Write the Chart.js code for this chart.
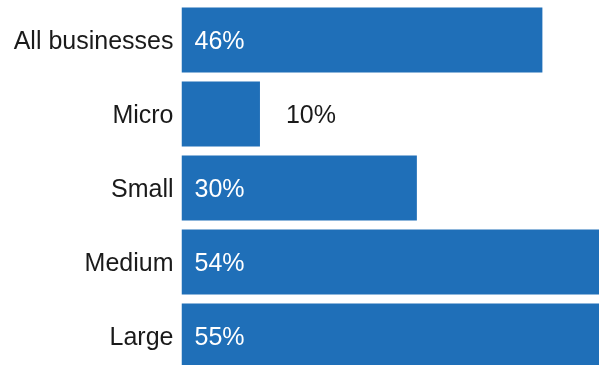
<!DOCTYPE html>
<html>
<head>
<meta charset="utf-8">
<script src="https://cdn.jsdelivr.net/npm/chart.js@4/dist/chart.umd.min.js"></script>
<style>
html,body{margin:0;padding:0;overflow:hidden;background:#fff;width:599px;height:365px;}
#wrap{position:absolute;left:0;top:0;width:613px;height:373px;}
</style>
</head>
<body>
<div id="wrap"><canvas id="c"></canvas></div>
<script>
const categories = ["All businesses", "Micro", "Small", "Medium", "Large"];
const shares = [46, 10, 30, 54, 55];
const valueLabels = ["46%", "10%", "30%", "54%", "55%"];

const FONT = {family: "'Liberation Sans', Arial, sans-serif", size: 25};

const labelPlugin = {
  id: 'valueLabels',
  afterDatasetsDraw(chart) {
    const ctx = chart.ctx;
    const meta = chart.getDatasetMeta(0);
    ctx.save();
    ctx.font = FONT.size + "px " + FONT.family;
    ctx.textBaseline = 'middle';
    ctx.textAlign = 'left';
    meta.data.forEach((bar, i) => {
      const w = bar.x - bar.base;
      if (w > 120) {
        ctx.fillStyle = '#ffffff';
        ctx.fillText(valueLabels[i], bar.base + 13, bar.y + 2);
      } else {
        ctx.fillStyle = '#1a1a1a';
        ctx.fillText(valueLabels[i], bar.x + 26, bar.y + 2);
      }
    });
    ctx.restore();
  }
};

new Chart(document.getElementById('c'), {
  type: 'bar',
  data: {
    labels: categories,
    datasets: [{
      data: shares,
      backgroundColor: '#1f6fb8',
      borderWidth: 0,
      categoryPercentage: 1.0,
      barPercentage: 0.88
    }]
  },
  options: {
    indexAxis: 'y',
    responsive: true,
    maintainAspectRatio: false,
    animation: false,
    layout: {padding: {top: 3, bottom: 0, left: 0, right: 0}},
    plugins: {legend: {display: false}, tooltip: {enabled: false}},
    scales: {
      x: {
        display: false,
        min: 0,
        max: 55
      },
      y: {
        grid: {display: false, drawTicks: false},
        border: {display: false},
        ticks: {
          color: '#1a1a1a',
          font: FONT,
          padding: 8,
          labelOffset: 2
        },
        afterFit(scale) {
          scale.width = 181.5;
          scale.paddingTop = 0;
          scale.paddingBottom = 0;
        }
      }
    }
  },
  plugins: [labelPlugin]
});
</script>
</body>
</html>
